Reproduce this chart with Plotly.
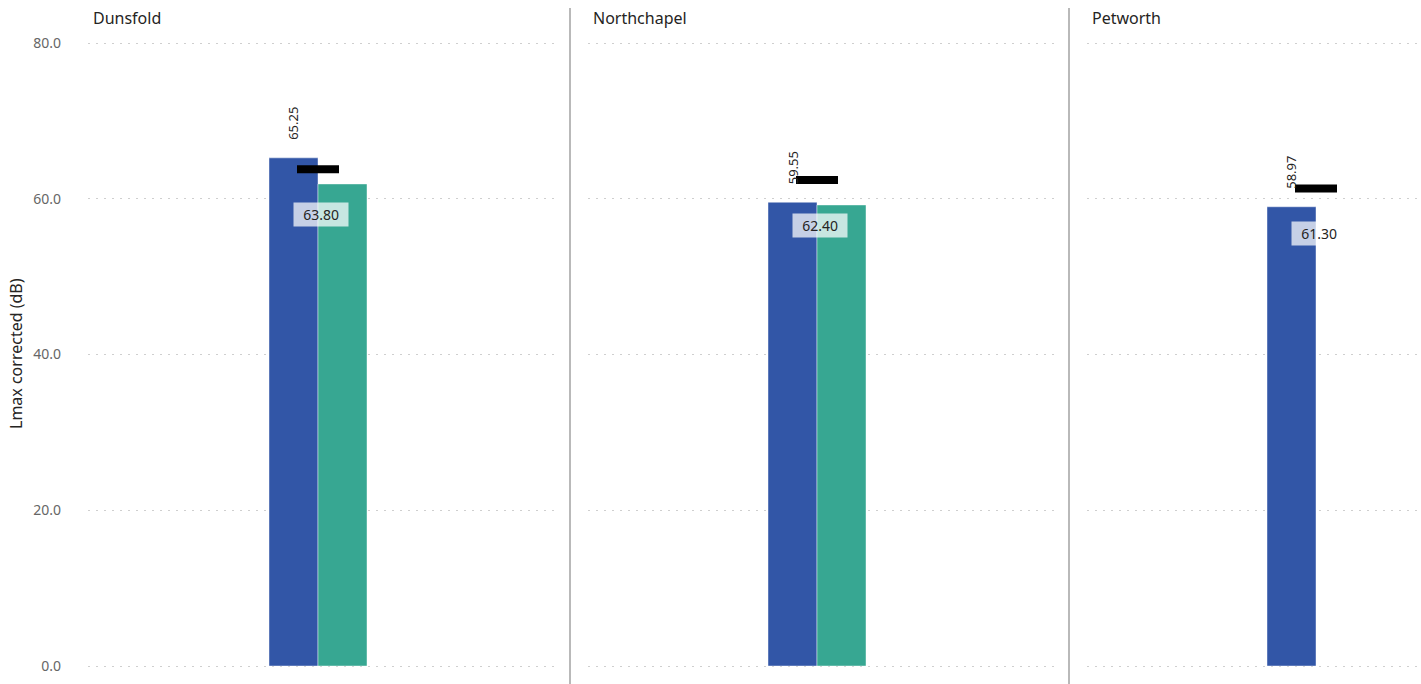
import plotly.graph_objects as go

# ---- data ----
sites = ["Dunsfold", "Northchapel", "Petworth"]
lmax_blue = [65.25, 59.55, 58.97]
lmax_green = [61.9, 59.2, None]
target = [63.80, 62.40, 61.30]
y_ticks = [0, 20, 40, 60, 80]
y_title = "Lmax corrected (dB)"

BLUE = "#3256A7"
GREEN = "#37A792"
EDGE = "rgba(255,255,255,0.55)"
FONT = "Noto Sans, Segoe UI, sans-serif"
W, H = 1421, 684

# panel layout in pixels: (domain left, domain right, group centre)
panels = [(88, 555, 318), (588, 1055, 817), (1087, 1421, 1316)]
UNIT = 499.0  # pixels per category width
bar_w = 49 / UNIT

fig = go.Figure()
layout = dict(
    width=W, height=H,
    margin=dict(l=0, r=0, t=0, b=0, autoexpand=False),
    paper_bgcolor="white", plot_bgcolor="white",
    barmode="group", bargap=1 - 2 * bar_w, bargroupgap=0,
    showlegend=False,
    font=dict(family=FONT, color="#252423"),
)

# y: value 0 at pixel 666, value 80 at pixel 43; extend a little so edge grid lines show
px_per = (666 - 43) / 80.0
ext = 0.3
ydom = [1 - (666 + ext * px_per) / H, 1 - (43 - ext * px_per) / H]
yrange = [-ext, 80 + ext]

NB = "\u00a0"
annotations = []
shapes = []
for i, site in enumerate(sites):
    n = "" if i == 0 else str(i + 1)
    xa, ya = "x" + n, "y" + n
    left, right, centre = panels[i]
    layout["xaxis" + n] = dict(
        domain=[left / W, right / W], anchor=ya, type="category", automargin=False,
        range=[(left - centre) / UNIT, (right - centre) / UNIT],
        showticklabels=False, showgrid=False, zeroline=False, showline=False, ticks="",
    )
    yax = dict(
        domain=ydom, anchor=xa, range=yrange, tickvals=y_ticks, automargin=False,
        ticktext=[f"{v:.1f}" for v in y_ticks],
        showgrid=True, gridcolor="#cfcfcf", griddash="2px,6px", gridwidth=1,
        zeroline=False, showline=False, ticks="",
    )
    if i == 0:
        yax.update(tickfont=dict(size=14, color="#666666", family=FONT), ticklabelstandoff=26)
    else:
        yax.update(matches="y", showticklabels=False)
    layout["yaxis" + n] = yax

    fig.add_trace(go.Bar(x=[site], y=[lmax_blue[i]], marker=dict(color=BLUE, line=dict(width=0.8, color=EDGE)),
                         xaxis=xa, yaxis=ya, offsetgroup="a"))
    fig.add_trace(go.Bar(x=[site], y=[lmax_green[i]], marker=dict(color=GREEN, line=dict(width=0.8, color=EDGE)),
                         xaxis=xa, yaxis=ya, offsetgroup="b"))
    fig.add_trace(go.Scatter(x=[site], y=[target[i]], mode="markers", xaxis=xa, yaxis=ya,
                             marker=dict(symbol="line-ew", size=30, color="black",
                                         line=dict(width=8, color="black"))))

    # rotated value label above blue bar
    annotations.append(dict(
        x=-bar_w / 2, y=lmax_blue[i], xref=xa, yref=ya, text=f"{lmax_blue[i]:.2f}",
        textangle=-90, showarrow=False, xanchor="center", yanchor="bottom", yshift=16,
        font=dict(size=13, color="#252423", family=FONT),
    ))
    # target label
    annotations.append(dict(
        x=0, y=target[i], xref=xa, yref=ya, text=f"{NB}{NB}{target[i]:.2f}{NB}{NB}",
        xshift=3, yshift=-45,
        showarrow=False, xanchor="center", yanchor="middle",
        bgcolor="rgba(255,255,255,0.72)", borderpad=2,
        font=dict(size=14, color="#252423", family=FONT),
    ))
    # panel title
    annotations.append(dict(
        x=(left + 3) / W, y=1 - 18 / H, xref="paper", yref="paper", text=site,
        showarrow=False, xanchor="left", yanchor="middle",
        font=dict(size=16, color="#252423", family=FONT),
    ))

# y axis title
annotations.append(dict(
    x=16 / W, y=1 - 354 / H, xref="paper", yref="paper", text=y_title, textangle=-90,
    showarrow=False, xanchor="center", yanchor="middle",
    font=dict(size=16, color="#252423", family=FONT),
))

for px in (570, 1069):
    shapes.append(dict(type="line", xref="paper", yref="paper", x0=px / W, x1=px / W,
                       y0=0, y1=1 - 8 / H, line=dict(color="#8a8a8a", width=1.2)))

layout["annotations"] = annotations
layout["shapes"] = shapes
fig.update_layout(**layout)
fig.write_html("out.html", config={"displayModeBar": False},
               post_script="document.body.style.margin='0';document.body.style.overflow='hidden';")
